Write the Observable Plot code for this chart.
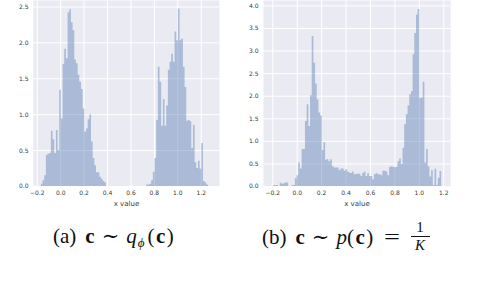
<!DOCTYPE html>
<html>
<head>
<meta charset="utf-8">
<script src="https://cdn.jsdelivr.net/npm/d3@7"></script>
<script src="https://cdn.jsdelivr.net/npm/@observablehq/plot@0.6"></script>
<style>
  html, body { margin: 0; padding: 0; background: #fff; }
  #wrap { position: relative; width: 484px; height: 284px; overflow: hidden; }
  .panel { position: absolute; top: 0; }
  .cap { position: absolute; top: 224px; height: 24px; font-family: "Liberation Serif", "DejaVu Serif", serif; font-size: 21px; color: #111; white-space: nowrap; line-height: 24px; }
  .cap b { font-weight: bold; }
  .cap .rel { display: inline-block; margin: 0 7px; }
  .cap .eq { display: inline-block; margin: 0 13px 0 11px; transform: scaleX(1.35); }
  .cap .lab { display: inline-block; margin-right: 9px; }
  .cap .arg { letter-spacing: 1.5px; }
  .cap sub { font-size: 13px; vertical-align: -4px; margin-left: 1px; margin-right: 3px; }
  .fracbox { display: inline-block; position: relative; width: 19px; height: 20px; vertical-align: baseline; }
  .frac { position: absolute; left: 0; top: -4px; width: 19px; text-align: center; font-size: 15px; line-height: 1.0; }
  .frac .num { display: block; border-bottom: 1px solid #111; padding-bottom: 1px; }
  .frac .den { display: block; padding-top: 1px; }
</style>
</head>
<body>
<div id="wrap">
  <div id="pa" class="panel" style="left:0px"></div>
  <div id="pb" class="panel" style="left:240px"></div>
  <div class="cap" style="left:53px"><span class="lab">(a)</span><b>c</b><span class="rel">∼</span><i>q</i><sub><i>ϕ</i></sub><span class="arg">(<b>c</b>)</span></div>
  <div class="cap" style="left:262px"><span class="lab">(b)</span><b>c</b><span class="rel">∼</span><i>p</i><span class="arg">(<b>c</b>)</span><span class="eq">=</span><span class="fracbox"><span class="frac"><span class="num">1</span><span class="den"><i>K</i></span></span></span></div>
</div>
<script>
// tick values
const xTicks = [-0.2, 0.0, 0.2, 0.4, 0.6, 0.8, 1.0, 1.2];
const yTicksA = [0.0, 0.5, 1.0, 1.5, 2.0, 2.5];
const yTicksB = [0.0, 0.5, 1.0, 1.5, 2.0, 2.5, 3.0, 3.5, 4.0];

// panel (a): histogram density values, 100 equal bins over the data range
const rangeA = [-0.165, 1.262];
const densityA = [
  0.03, 0.08, 0.15, 0.43, 0.45, 0.46, 0.77, 0.65, 0.46, 0.78,
  0.50, 1.34, 0.94, 1.70, 1.91, 1.78, 2.42, 2.46, 2.28, 2.17,
  1.76, 1.71, 1.55, 1.45, 1.35, 1.08, 0.76, 0.80, 0.93, 1.00,
  0.62, 0.39, 0.29, 0.19, 0.19, 0.13, 0.10, 0.07, 0.05,
  0, 0, 0, 0, 0, 0, 0, 0, 0, 0, 0, 0, 0, 0, 0, 0, 0, 0, 0, 0, 0, 0, 0, 0,
  0.02, 0.02, 0.03, 0.08, 0.20, 0.39, 0.92, 1.66, 1.45, 0.84,
  1.21, 0.84, 1.12, 1.62, 1.73, 1.84, 1.73, 2.15, 2.03, 2.47,
  2.03, 2.05, 1.66, 1.38, 0.91, 0.92, 0.90, 0.53, 0.85, 0.33,
  0.25, 0.35, 0.24, 0.60, 0.07, 0.05, 0.02
];

// panel (b): histogram density values, 100 equal bins over the data range
const rangeB = [-0.194, 1.183];
const densityB = [
  0.02, 0.02, 0.02, 0, 0.07, 0.05, 0.06, 0.08, 0.08, 0,
  0, 0.02, 0.02, 0.17, 0.24, 0.52, 0.39, 0.82, 0.82, 1.44,
  1.81, 1.33, 2.01, 3.32, 2.73, 2.27, 1.92, 1.63, 1.56, 0.80,
  0.97, 0.58, 0.60, 0.55, 0.59, 0.44, 0.41, 0.41, 0.41, 0.35,
  0.39, 0.39, 0.34, 0.37, 0.32, 0.30, 0.29, 0.32, 0.26, 0.27,
  0.27, 0.27, 0.22, 0.29, 0.32, 0.22, 0.28, 0.22, 0.22, 0.15,
  0.26, 0.29, 0.26, 0.26, 0.24, 0.34, 0.34, 0.32, 0.24, 0.42,
  0.44, 0.42, 0.42, 0.42, 0.55, 0.61, 0.49, 0.85, 1.37, 1.59,
  1.79, 2.03, 2.10, 2.92, 3.39, 3.80, 3.92, 1.95, 1.96, 2.31,
  0.52, 0.82, 0.43, 0.21, 0.35, 0.02, 0.38, 0.02, 0.18, 0.33
];

// histogram outline as step points (left edge of each bin + closing right edge)
function toSteps(values, range) {
  const w = (range[1] - range[0]) / values.length;
  const pts = values.map((v, i) => ({x: range[0] + i * w, y: v}));
  pts.push({x: range[1], y: values[values.length - 1]});
  return pts;
}

const fmt = d3.format(".1f");

function panel({values, range, yTicks, width, marginLeft, marginRight, xDomain, yDomain}) {
  return Plot.plot({
    width, height: 210,
    marginLeft, marginRight, marginTop: 0, marginBottom: 24,
    x: {domain: xDomain},
    y: {domain: yDomain},
    style: {fontFamily: "DejaVu Sans, sans-serif", fontSize: "6px", color: "#3a3a3a", background: "transparent", overflow: "visible"},
    marks: [
      Plot.frame({fill: "#EAEAF2", stroke: "none"}),
      Plot.gridY(yTicks, {stroke: "white", strokeOpacity: 1, strokeWidth: 1}),
      Plot.gridX(xTicks, {stroke: "white", strokeOpacity: 1, strokeWidth: 1}),
      Plot.areaY(toSteps(values, range), {x: "x", y: "y", curve: "step-after", fill: "#4C72B0", fillOpacity: 0.4}),
      Plot.axisX(xTicks, {tickSize: 0, tickPadding: 4, tickFormat: fmt, label: null}),
      Plot.axisY(yTicks, {tickSize: 0, tickPadding: 5, tickFormat: fmt, label: null}),
      Plot.text(["x value"], {frameAnchor: "bottom", dy: 17, lineAnchor: "middle", fontSize: 7, fill: "#3a3a3a"})
    ]
  });
}

document.getElementById("pa").appendChild(panel({
  values: densityA, range: rangeA, yTicks: yTicksA, width: 240,
  marginLeft: 33, marginRight: 21, xDomain: [-0.232, 1.356], yDomain: [0, 2.59]
}));
document.getElementById("pb").appendChild(panel({
  values: densityB, range: rangeB, yTicks: yTicksB, width: 244,
  marginLeft: 23, marginRight: 34, xDomain: [-0.276, 1.255], yDomain: [0, 4.12]
}));
</script>
</body>
</html>
